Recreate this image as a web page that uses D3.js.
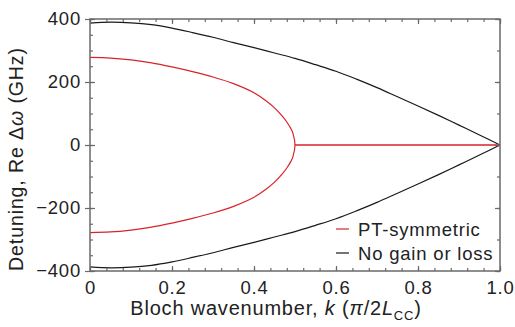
<!DOCTYPE html>
<html>
<head>
<meta charset="utf-8">
<script src="https://cdn.jsdelivr.net/npm/d3@7"></script>
<style>
  body { margin: 0; background: #fff; }
  text { font-family: "Liberation Sans", Arial, sans-serif; fill: #222; }
</style>
</head>
<body>
<script>
// values (GHz)
const kGrid = [0, 0.05, 0.1, 0.15, 0.2, 0.25, 0.3, 0.35, 0.4, 0.45, 0.5, 0.55, 0.6, 0.65, 0.7, 0.75, 0.8, 0.85, 0.9, 0.95, 1.0];
const noLossUpper = [387, 390, 388, 382, 371, 357, 342, 325, 309, 292, 275, 255, 234, 209, 182, 153, 124, 94, 63, 32, 0];
const noLossLower = [-387, -390, -388, -382, -371, -357, -342, -325, -309, -292, -275, -255, -234, -209, -182, -153, -124, -94, -63, -32, 0];

const ptK = [0, 0.05, 0.1, 0.15, 0.2, 0.25, 0.3, 0.35, 0.4, 0.43, 0.45, 0.47, 0.48, 0.49, 0.495, 0.5];
const ptUpper = [278, 276, 270, 261, 248, 233, 216, 195, 166, 140, 118, 90, 73, 52, 37, 0];
const ptLower = [-278, -276, -270, -261, -248, -233, -216, -195, -166, -140, -118, -90, -73, -52, -37, 0];
const ptFlatK = [0.5, 1.0];
const ptFlat = [0, 0];

const xTicks = [0, 0.2, 0.4, 0.6, 0.8, 1.0];
const yTicks = [-400, -200, 0, 200, 400];
const legendItems = ["PT-symmetric", "No gain or loss"];

const W = 515, H = 327;
const plot = { left: 90, right: 500, top: 19, bottom: 271 };
const RED = "#d8232a", BLACK = "#1a1a1a", AXIS = "#6a6a6a";

const svg = d3.select("body").append("svg")
    .attr("width", W)
    .attr("height", H);

const x = d3.scaleLinear().domain([0, 1]).range([plot.left, plot.right]);
const y = d3.scaleLinear().domain([-400, 400]).range([plot.bottom, plot.top]);

const line = d3.line()
    .x(d => x(d[0])).y(d => y(d[1]))
    .curve(d3.curveCatmullRom.alpha(0.5));

// curves
const upper = kGrid.map((k, i) => [k, noLossUpper[i]]);
const lower = kGrid.map((k, i) => [k, noLossLower[i]]);
svg.append("path").datum(upper).attr("d", line)
    .attr("fill", "none").attr("stroke", BLACK).attr("stroke-width", 1.2);
svg.append("path").datum(lower).attr("d", line)
    .attr("fill", "none").attr("stroke", BLACK).attr("stroke-width", 1.2);

// PT loop: upper branch out to the exceptional point, then back along the lower one
const loop = ptK.map((k, i) => [k, ptUpper[i]])
    .concat(ptK.slice(0, -1).map((k, i) => [k, ptLower[i]]).reverse());
svg.append("path").datum(loop).attr("d", line)
    .attr("fill", "none").attr("stroke", RED).attr("stroke-width", 1.2);
svg.append("path").datum(ptFlatK.map((k, i) => [k, ptFlat[i]])).attr("d", line)
    .attr("fill", "none").attr("stroke", RED).attr("stroke-width", 1.4);

// axes, ticks pointing inward
const minorX = d3.range(0, 1.0001, 0.04);
const minorYLeft = d3.range(-400, 401, 50);
const minorYRight = d3.range(-400, 401, 100);
const fmtX = d => d === 0 ? "0" : d.toFixed(1);
const fmtY = d => d < 0 ? "\u2212" + Math.abs(d) : String(d);

function styleAxis(g) {
    g.select(".domain").remove();
    g.selectAll("line").attr("stroke", AXIS).attr("stroke-width", 1.2);
    g.selectAll("text").attr("font-size", 18.5).attr("letter-spacing", 0.8)
        .attr("fill", "#222").attr("font-family", "Liberation Sans, Arial, sans-serif");
}

svg.append("g").attr("transform", `translate(0,${plot.bottom})`)
    .call(d3.axisBottom(x).tickValues(minorX).tickSize(-3).tickFormat("")).call(styleAxis);
svg.append("g").attr("transform", `translate(0,${plot.bottom})`)
    .call(d3.axisBottom(x).tickValues(xTicks).tickSize(-5).tickPadding(10).tickFormat(fmtX)).call(styleAxis);
svg.append("g").attr("transform", `translate(0,${plot.top})`)
    .call(d3.axisTop(x).tickValues(minorX).tickSize(-3).tickFormat("")).call(styleAxis);
svg.append("g").attr("transform", `translate(0,${plot.top})`)
    .call(d3.axisTop(x).tickValues(xTicks).tickSize(-5).tickFormat("")).call(styleAxis);

svg.append("g").attr("transform", `translate(${plot.left},0)`)
    .call(d3.axisLeft(y).tickValues(minorYLeft).tickSize(-3).tickFormat("")).call(styleAxis);
const yAxis = svg.append("g").attr("transform", `translate(${plot.left},0)`)
    .call(d3.axisLeft(y).tickValues(yTicks).tickSize(5).tickPadding(4).tickFormat(fmtY)).call(styleAxis);
yAxis.selectAll(".tick line").attr("x1", 5);
svg.append("g").attr("transform", `translate(${plot.right},0)`)
    .call(d3.axisRight(y).tickValues(minorYRight).tickSize(-3).tickFormat("")).call(styleAxis);
svg.append("g").attr("transform", `translate(${plot.right},0)`)
    .call(d3.axisRight(y).tickValues(yTicks).tickSize(-5).tickFormat("")).call(styleAxis);

// frame
svg.append("rect")
    .attr("x", plot.left).attr("y", plot.top)
    .attr("width", plot.right - plot.left).attr("height", plot.bottom - plot.top)
    .attr("fill", "none").attr("stroke", AXIS).attr("stroke-width", 1.5);

// axis titles
const xt = svg.append("text")
    .attr("x", 276).attr("y", 315)
    .attr("text-anchor", "middle").attr("font-size", 20).attr("letter-spacing", 0.8);
xt.append("tspan").text("Bloch wavenumber, ");
xt.append("tspan").attr("font-style", "italic").text("k");
xt.append("tspan").text(" (");
xt.append("tspan").attr("font-style", "italic").text("\u03c0");
xt.append("tspan").text("/2");
xt.append("tspan").attr("font-style", "italic").text("L");
xt.append("tspan").attr("font-size", 13).attr("dy", 5).text("CC");
xt.append("tspan").attr("dy", -5).text(")");

const yt = svg.append("text")
    .attr("transform", "translate(23,159) rotate(-90)")
    .attr("text-anchor", "middle").attr("font-size", 19.5).attr("letter-spacing", 0.9);
yt.append("tspan").text("Detuning, Re \u0394");
yt.append("tspan").attr("font-style", "italic").text("\u03c9");
yt.append("tspan").text(" (GHz)");

// legend
const legend = svg.append("g");
legendItems.forEach((label, i) => {
    const ly = 229 + i * 24;
    legend.append("line")
        .attr("x1", 336).attr("x2", 349).attr("y1", ly).attr("y2", ly)
        .attr("stroke", i === 0 ? RED : BLACK).attr("stroke-width", 1.2);
    legend.append("text")
        .attr("x", 358).attr("y", ly + 6.5)
        .attr("font-size", 18.5).attr("letter-spacing", 0.8)
        .text(label);
});
</script>
</body>
</html>
